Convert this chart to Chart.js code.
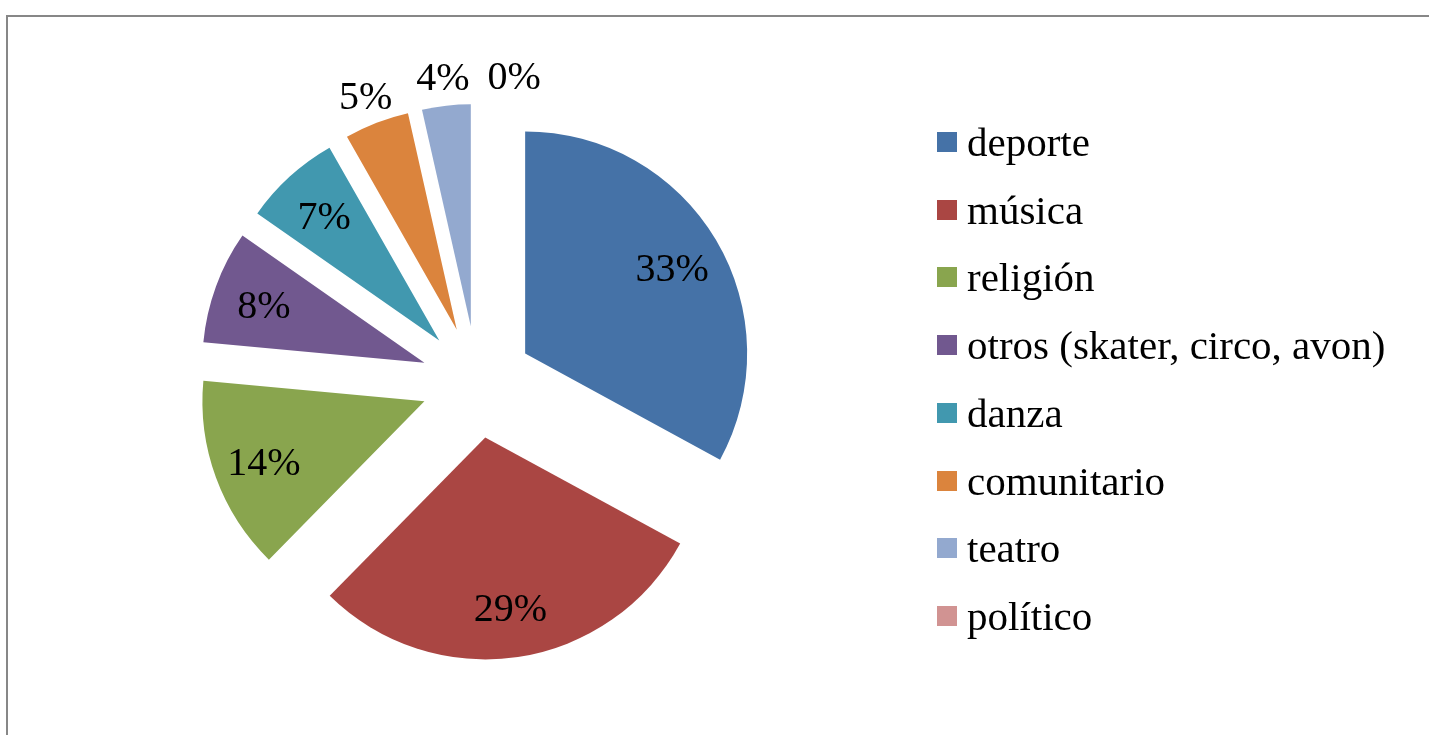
<!DOCTYPE html>
<html>
<head>
<meta charset="utf-8">
<script src="https://cdn.jsdelivr.net/npm/chart.js@4.4.1/dist/chart.umd.min.js"></script>
<style>
  html, body { margin: 0; padding: 0; background: #fff; overflow: hidden; }
  #wrap { position: relative; width: 1429px; height: 735px; }
  #frame { position: absolute; left: 6px; top: 15px; width: 1440px; height: 760px;
           border-top: 2px solid #878787; border-left: 2px solid #878787; box-sizing: border-box; }
  #chart { position: absolute; left: 0; top: 0; }
  #legend { position: absolute; left: 937px; top: 0; font-family: "Liberation Serif", serif;
            font-size: 41px; color: #000; }
  .item { position: absolute; left: 0; display: flex; align-items: center; white-space: nowrap; height: 40px; line-height: 40px; }
  .box { width: 20px; height: 20px; margin-right: 10px; flex: none; }
</style>
</head>
<body>
<div id="wrap">
  <div id="frame"></div>
  <canvas id="chart" width="1429" height="735"></canvas>
  <div id="legend"></div>
</div>
<script>
const categories = ["deporte", "música", "religión", "otros (skater, circo, avon)", "danza", "comunitario", "teatro", "político"];
const counts = [28, 25, 12, 7, 6, 4, 3, 0];
const sliceColors = ["#4572A7", "#AA4643", "#89A54E", "#71588F", "#4198AF", "#DB843D", "#93A9CF", "#D19392"];

const total = counts.reduce((a, b) => a + b, 0);
const percentLabels = counts.map(v => Math.round(v / total * 100) + '%');

// HTML legend built from the arrays
const legendEl = document.getElementById('legend');
categories.forEach((c, i) => {
  const it = document.createElement('div');
  it.className = 'item';
  it.style.top = (122 + i * 67.7) + 'px';
  const b = document.createElement('span');
  b.className = 'box';
  b.style.background = sliceColors[i];
  const t = document.createElement('span');
  t.textContent = c;
  it.appendChild(b); it.appendChild(t);
  legendEl.appendChild(it);
});

const EXPLODE = 56;          // explode distance in px
const RADIUS = 222;

// Draw each library arc translated along its mid-angle (uniform explode)
const explodePlugin = {
  id: 'explode',
  beforeDatasetDraw(chart, args) {
    const ctx = chart.ctx;
    args.meta.data.forEach(arc => {
      const mid = (arc.startAngle + arc.endAngle) / 2;
      ctx.save();
      ctx.translate(Math.cos(mid) * EXPLODE, Math.sin(mid) * EXPLODE);
      arc.draw(ctx, chart.chartArea);
      ctx.restore();
    });
    return false;
  }
};

const labelPlugin = {
  id: 'pctLabels',
  afterDatasetsDraw(chart) {
    const ctx = chart.ctx;
    const meta = chart.getDatasetMeta(0);
    ctx.save();
    ctx.font = '40px "Liberation Serif", serif';
    ctx.fillStyle = '#000';
    ctx.textAlign = 'center';
    ctx.textBaseline = 'middle';
    let prevBox = null;
    meta.data.forEach((arc, i) => {
      const p = arc.getProps(['x', 'y', 'startAngle', 'endAngle', 'outerRadius']);
      const mid = (p.startAngle + p.endAngle) / 2;
      const dx = Math.cos(mid), dy = Math.sin(mid);
      const ax = p.x + EXPLODE * dx, ay = p.y + EXPLODE * dy;
      const text = percentLabels[i];
      const w = ctx.measureText(text).width;
      const outside = counts[i] / total < 0.06;
      let lx, ly;
      if (outside) {
        lx = ax + (p.outerRadius + 30) * dx;
        ly = ay + (p.outerRadius + 30) * dy;
        if (prevBox && Math.abs(ly - prevBox.y) < 30 && lx - w / 2 < prevBox.right + 18) {
          lx = prevBox.right + 18 + w / 2;
        }
        prevBox = { right: lx + w / 2, y: ly };
      } else {
        lx = ax + p.outerRadius * 0.77 * dx;
        ly = ay + p.outerRadius * 0.77 * dy;
      }
      ctx.fillText(text, lx, ly + 4);
    });
    ctx.restore();
  }
};

new Chart(document.getElementById('chart'), {
  type: 'pie',
  data: {
    labels: categories,
    datasets: [{
      data: counts,
      backgroundColor: sliceColors,
      borderWidth: 0,
      offset: 0,
      hoverOffset: 0
    }]
  },
  options: {
    responsive: false,
    animation: false,
    radius: RADIUS,
    layout: { padding: { left: 0, right: 475, top: 29, bottom: 0 } },
    plugins: { legend: { display: false }, tooltip: { enabled: false } },
    events: []
  },
  plugins: [explodePlugin, labelPlugin]
});
</script>
</body>
</html>
